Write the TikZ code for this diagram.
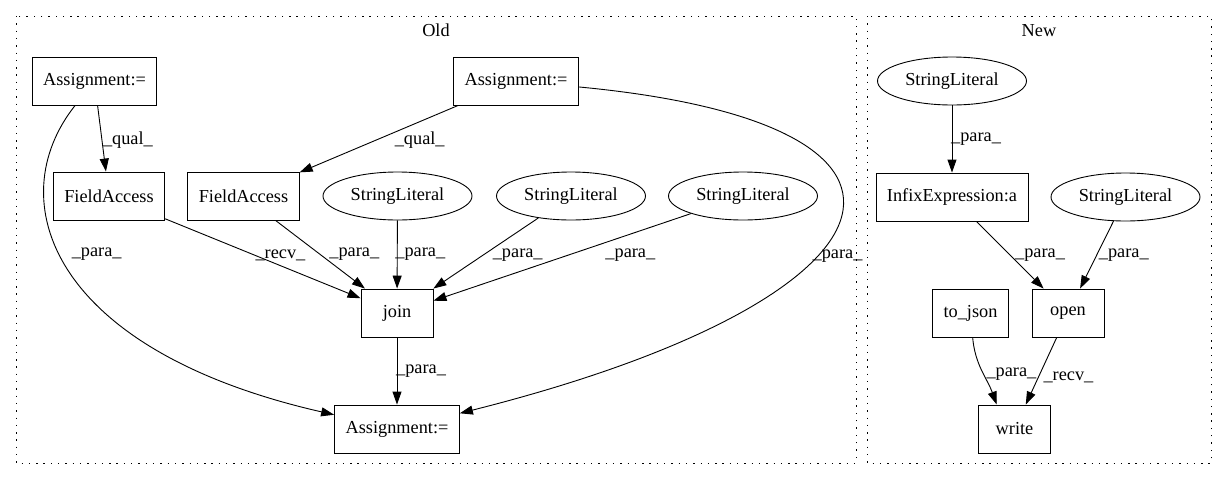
\documentclass[tikz,border=0pt]{standalone}
\usepackage{fontspec}
\setmainfont{Liberation Serif}
\usetikzlibrary{arrows.meta, shapes.geometric}

\begin{document}
\begin{tikzpicture}[x=1pt, y=1pt, font=\fontsize{18.3}{22}\selectfont]
    \tikzstyle{stmt} = [rectangle, draw, line width=0.9pt, minimum width=72pt, minimum height=48pt, inner xsep=11pt, text centered]
    \tikzstyle{lit} = [ellipse, draw, line width=0.9pt, minimum width=149pt, minimum height=48pt, inner sep=0pt]
    \tikzstyle{edge} = [-{Triangle[length=13pt, width=9pt]}, line width=0.9pt]
    \tikzstyle{lbl} = [inner sep=0pt]
    \tikzstyle{cluster} = [line width=1pt, dash pattern=on 1.4pt off 5.9pt]

    \useasboundingbox (0,0) rectangle (1227,-480);

    % Clusters
    \draw [cluster] (16,-16) rectangle (856,-463);
    \draw [cluster] (867,-16) rectangle (1211,-463);
    \node (oldtitle) at (436,-30.5) {Old};
    \node (newtitle) at (1039,-30.5) {New};

    % Old version
    \node [stmt] (a1) at (94.5,-81) {Assignment:=};
    \node [stmt] (a2) at (516,-81) {Assignment:=};
    \node [stmt] (fa1) at (109,-196) {FieldAccess};
    \node [stmt] (fa2) at (243.5,-196) {FieldAccess};
    \node [lit] (sl1) at (397.5,-196) {StringLiteral};
    \node [lit] (sl2) at (571,-196) {StringLiteral};
    \node [lit] (sl3) at (743,-196) {StringLiteral};
    \node [stmt] (join) at (397,-313) {join};
    \node [stmt] (a3) at (397,-429) {Assignment:=};

    % New version
    \node [lit] (nsl1) at (952,-81) {StringLiteral};
    \node [stmt] (infix) at (952,-197) {InfixExpression:a};
    \node [lit] (nsl2) at (1125.5,-197) {StringLiteral};
    \node [stmt] (tojson) at (970.5,-313) {to\_json};
    \node [stmt] (open) at (1068,-313) {open};
    \node [stmt] (write) at (1014.5,-429) {write};

    % Old edges
    \draw [edge] (a1) -- node[lbl, pos=0.52, xshift=26pt] {\_qual\_} (fa1);
    \draw [edge] (a2) -- node[lbl, pos=0.52, xshift=44pt] {\_qual\_} (fa2);
    \draw [edge] (a1) .. controls (0,-200) and (50,-350) .. node[lbl, pos=0.45, xshift=37pt] {\_para\_} (a3);
    \draw [edge] (fa1) -- node[lbl, pos=0.59, yshift=10pt] {\_recv\_} (join);
    \draw [edge] (fa2) -- node[lbl, pos=0.5, xshift=34pt] {\_para\_} (join);
    \draw [edge] (sl1) -- node[lbl, pos=0.5, xshift=23pt] {\_para\_} (join);
    \draw [edge] (sl2) -- node[lbl, pos=0.52, xshift=34pt] {\_para\_} (join);
    \draw [edge] (sl3) -- node[lbl, pos=0.48, xshift=63pt] {\_para\_} (join);
    \draw [edge] (a2) .. controls (980,-125) and (910,-300) .. node[lbl, pos=0.59, xshift=22pt] {\_para\_} (a3);
    \draw [edge] (join) -- node[lbl, xshift=24pt] {\_para\_} (a3);

    % New edges
    \draw [edge] (nsl1) -- node[lbl, xshift=24pt] {\_para\_} (infix);
    \draw [edge] (infix) -- node[lbl, xshift=30pt] {\_para\_} (open);
    \draw [edge] (nsl2) -- node[lbl, xshift=27pt] {\_para\_} (open);
    \draw [edge] (tojson) to[out=-85, in=110] node[lbl, pos=0.55, xshift=28pt] {\_para\_} (write.126);
    \draw [edge] (open) -- node[lbl, pos=0.59, xshift=30pt] {\_recv\_} (write);
\end{tikzpicture}
\end{document}
